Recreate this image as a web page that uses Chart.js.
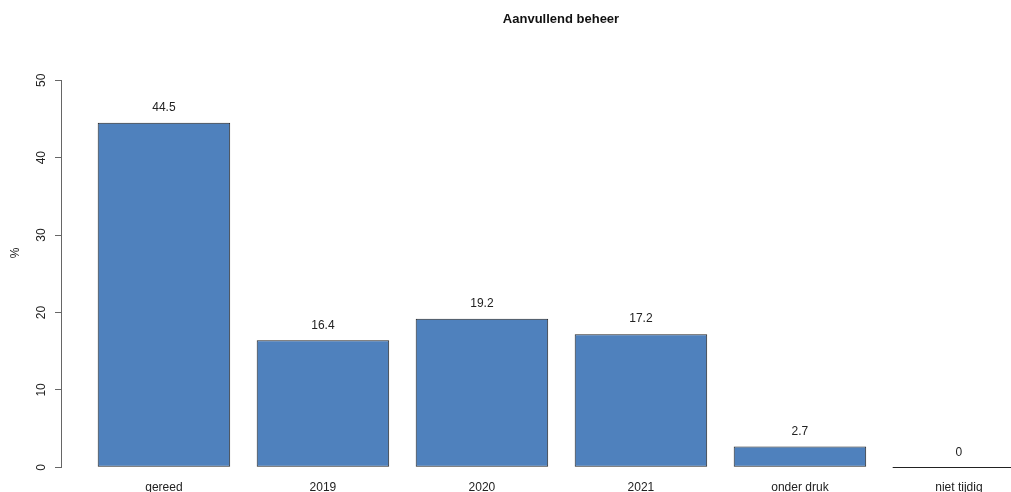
<!DOCTYPE html>
<html>
<head>
<meta charset="utf-8">
<script src="https://cdn.jsdelivr.net/npm/chart.js@4"></script>
<style>
  html, body { margin: 0; padding: 0; background: #fff; overflow: hidden; }
  #wrap { position: relative; width: 1011px; height: 492px; }
</style>
</head>
<body>
<div id="wrap"><canvas id="c" width="1011" height="492"></canvas></div>
<script>
const TITLE = 'Aanvullend beheer';
const Y_LABEL = '%';
const CATEGORIES = ['gereed', '2019', '2020', '2021', 'onder druk', 'niet tijdig'];
const VALUES = [44.5, 16.4, 19.2, 17.2, 2.7, 0];
const Y_TICKS = [0, 10, 20, 30, 40, 50];

const FONT = "'Liberation Sans', Arial, Helvetica, sans-serif";
const BAR_FILL = '#4F81BD';

const extras = {
  id: 'extras',
  afterDatasetsDraw(chart) {
    const ctx = chart.ctx;
    const meta = chart.getDatasetMeta(0);
    ctx.save();
    meta.data.forEach((bar, i) => {
      if (VALUES[i] === 0) {
        ctx.strokeStyle = '#222';
        ctx.lineWidth = 1;
        ctx.beginPath();
        ctx.moveTo(bar.x - bar.width / 2, Math.round(bar.y) + 0.5);
        ctx.lineTo(bar.x + bar.width / 2, Math.round(bar.y) + 0.5);
        ctx.stroke();
      }
    });
    ctx.fillStyle = '#222';
    ctx.font = '12px ' + FONT;
    ctx.textAlign = 'center';
    ctx.textBaseline = 'middle';
    meta.data.forEach((bar, i) => {
      ctx.fillText(String(VALUES[i]), bar.x, bar.y - 15);
    });
    ctx.restore();
  },
  afterDraw(chart) {
    const ctx = chart.ctx;
    ctx.save();
    ctx.fillStyle = '#111';
    ctx.font = 'bold 13px ' + FONT;
    ctx.textAlign = 'center';
    ctx.textBaseline = 'middle';
    ctx.fillText(TITLE, 561, 19);
    ctx.font = '12px ' + FONT;
    ctx.fillStyle = '#222';
    ctx.translate(16, 253);
    ctx.rotate(-Math.PI / 2);
    ctx.fillText(Y_LABEL, 0, 0);
    ctx.restore();
  }
};

const BAND = 159;
const FIRST_CENTER = 163.95;
const AXIS_X = 61;
const X_MIN = -(FIRST_CENTER - AXIS_X) / BAND;
const X_MAX = (1011 - FIRST_CENTER) / BAND;

new Chart(document.getElementById('c'), {
  type: 'bar',
  data: {
    datasets: [{
      data: CATEGORIES.map((c, i) => ({ x: i, y: VALUES[i] })),
      backgroundColor: BAR_FILL,
      borderColor: '#222',
      borderWidth: 1,
      borderSkipped: false,
      categoryPercentage: 1,
      barPercentage: 1 / 1.2
    }]
  },
  options: {
    responsive: false,
    animation: false,
    events: [],
    layout: { padding: { top: 80.3, left: 0, right: 0, bottom: 0 } },
    plugins: { legend: { display: false }, tooltip: { enabled: false }, title: { display: false } },
    scales: {
      x: {
        type: 'linear',
        offset: false,
        bounds: 'data',
        min: X_MIN,
        max: X_MAX,
        grid: { display: false, drawTicks: false, offset: false },
        border: { display: false },
        afterBuildTicks(scale) {
          scale.ticks = CATEGORIES.map((c, i) => ({ value: i }));
        },
        afterFit(scale) { scale.height = 492 - 467.3; },
        ticks: {
          padding: 13,
          autoSkip: false,
          maxRotation: 0,
          color: '#222',
          font: { family: FONT, size: 12 },
          callback: (v) => CATEGORIES[v]
        }
      },
      y: {
        min: 0,
        max: 50,
        afterBuildTicks(scale) {
          scale.ticks = Y_TICKS.map(v => ({ value: v }));
        },
        afterFit(scale) { scale.width = AXIS_X; },
        grid: { display: true, drawOnChartArea: false, drawTicks: true, tickLength: 6, color: '#666' },
        border: { display: true, color: '#666', width: 1 },
        ticks: {
          minRotation: 90,
          maxRotation: 90,
          crossAlign: 'center',
          padding: 7,
          color: '#222',
          font: { family: FONT, size: 12 }
        }
      }
    }
  },
  plugins: [extras]
});
</script>
</body>
</html>
